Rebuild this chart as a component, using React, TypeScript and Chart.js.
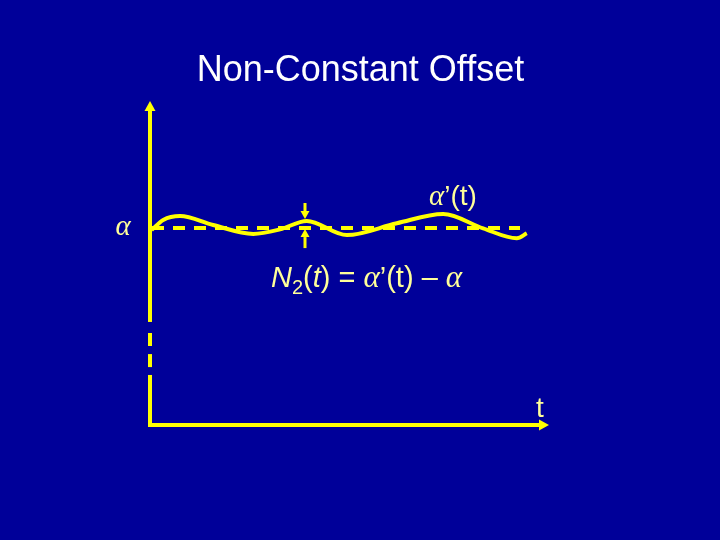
import React, { useEffect, useRef } from "react";
import { Chart, registerables } from "chart.js";

Chart.register(...registerables);

// ---- data (t along horizontal axis 0..100, value v with alpha = 1) ----
const ALPHA = 1.0;
const waveT = [0.4, 3.3, 7.5, 15.8, 25.8, 32.5, 39.2, 49.2, 61.7, 73.3, 83.3, 91.7, 94.2];
const waveV = [0.99, 1.041, 1.061, 1.015, 0.97, 0.993, 1.036, 0.964, 1.024, 1.071, 0.998, 0.948, 0.973];
const alphaLineT = [0.5, 92.5];
const vAxisSegments = [
  [0, 0.254],
  [0.294, 0.36],
  [0.401, 0.467],
  [0.523, 1.594],
];
const tAxisRange = [-0.5, 97.25];
const n2T = 38.75;
const n2Upper = [1.127, 1.086];
const n2Lower = [0.898, 0.954];

const titleText = "Non-Constant Offset";
const alphaLabel = "α";
const alphaPrimeLabel = ["α", "’(t)"];
const tLabel = "t";

const YELLOW = "#FFFF00";
const LABEL = "#FFFF99";
const BG = "#000099";

const SANS = "'Liberation Sans', Arial, sans-serif";
const SERIF = "'Liberation Serif', 'Times New Roman', serif";

type Seg = { text: string; font: string; dy?: number };

function drawSegs(ctx: CanvasRenderingContext2D, segs: Seg[], x: number, y: number, align: "left" | "center") {
  let total = 0;
  for (const s of segs) {
    ctx.font = s.font;
    total += ctx.measureText(s.text).width;
  }
  let cx = align === "center" ? x - total / 2 : x;
  ctx.textBaseline = "alphabetic";
  ctx.textAlign = "left";
  for (const s of segs) {
    ctx.font = s.font;
    ctx.fillText(s.text, cx, y + (s.dy || 0));
    cx += ctx.measureText(s.text).width;
  }
}

const arrowPlugin = {
  id: "arrowHeads",
  afterDatasetsDraw(chart: any) {
    const ctx = chart.ctx;
    chart.data.datasets.forEach((ds: any, i: number) => {
      if (!ds.arrow) return;
      const pts = chart.getDatasetMeta(i).data;
      if (pts.length < 2) return;
      const a = pts[pts.length - 2];
      const b = pts[pts.length - 1];
      const dx = b.x - a.x;
      const dy = b.y - a.y;
      const len = Math.hypot(dx, dy) || 1;
      const ux = dx / len;
      const uy = dy / len;
      const hl = ds.arrow.length;
      const hw = ds.arrow.width / 2;
      ctx.save();
      ctx.fillStyle = ds.borderColor;
      ctx.beginPath();
      ctx.moveTo(b.x + ux * hl, b.y + uy * hl);
      ctx.lineTo(b.x - uy * hw, b.y + ux * hw);
      ctx.lineTo(b.x + uy * hw, b.y - ux * hw);
      ctx.closePath();
      ctx.fill();
      ctx.restore();
    });
  },
};

const textPlugin = {
  id: "slideText",
  beforeDraw(chart: any) {
    const ctx = chart.ctx;
    ctx.save();
    ctx.fillStyle = BG;
    ctx.fillRect(0, 0, chart.width, chart.height);
    ctx.restore();
  },
  afterDatasetsDraw(chart: any) {
    const ctx = chart.ctx;
    const xs = chart.scales.x;
    const ys = chart.scales.y;
    ctx.save();
    // title
    ctx.fillStyle = "#FFFFFF";
    drawSegs(ctx, [{ text: titleText, font: `36px ${SANS}` }], 360.5, 81, "center");

    ctx.fillStyle = LABEL;
    // alpha label left of axis
    drawSegs(ctx, [{ text: alphaLabel, font: `italic 29px ${SERIF}` }], xs.getPixelForValue(-6.75), ys.getPixelForValue(0.964), "center");
    // alpha'(t)
    drawSegs(
      ctx,
      [
        { text: alphaPrimeLabel[0], font: `italic 29px ${SERIF}` },
        { text: alphaPrimeLabel[1], font: `28px ${SANS}` },
      ],
      xs.getPixelForValue(75.75),
      ys.getPixelForValue(1.117),
      "center"
    );
    // N2(t) = alpha'(t) - alpha
    drawSegs(
      ctx,
      [
        { text: "N", font: `italic 29px ${SANS}` },
        { text: "2", font: `20px ${SANS}`, dy: 7 },
        { text: "(", font: `29px ${SANS}` },
        { text: "t", font: `italic 29px ${SANS}` },
        { text: ") = ", font: `29px ${SANS}` },
        { text: "α", font: `italic 31px ${SERIF}` },
        { text: "’(t) – ", font: `29px ${SANS}` },
        { text: "α", font: `italic 31px ${SERIF}` },
      ],
      xs.getPixelForValue(30.25),
      ys.getPixelForValue(0.701),
      "left"
    );
    // t label
    drawSegs(ctx, [{ text: tLabel, font: `28px ${SANS}` }], xs.getPixelForValue(97.5), ys.getPixelForValue(0.041), "center");
    ctx.restore();
  },
};

export default function App() {
  const ref = useRef<HTMLCanvasElement | null>(null);

  useEffect(() => {
    if (!ref.current) return;
    const lineBase = {
      type: "line" as const,
      borderColor: YELLOW,
      pointRadius: 0,
      fill: false,
      clip: false,
    };
    const datasets: any[] = [
      {
        ...lineBase,
        label: "alpha",
        data: alphaLineT.map((t) => ({ x: t, y: ALPHA })),
        borderWidth: 4,
        borderDash: [12, 9],
      },
      {
        ...lineBase,
        label: "alpha'(t)",
        data: waveT.map((t, i) => ({ x: t, y: waveV[i] })),
        borderWidth: 4,
        cubicInterpolationMode: "monotone",
      },
      ...vAxisSegments.map((seg, i) => ({
        ...lineBase,
        label: "vaxis" + i,
        data: seg.map((v) => ({ x: 0, y: v })),
        borderWidth: 4,
        arrow: i === vAxisSegments.length - 1 ? { length: 10, width: 11 } : undefined,
      })),
      {
        ...lineBase,
        label: "taxis",
        data: tAxisRange.map((t) => ({ x: t, y: 0 })),
        borderWidth: 4,
        arrow: { length: 10, width: 11 },
      },
      {
        ...lineBase,
        label: "n2up",
        data: n2Upper.map((v) => ({ x: n2T, y: v })),
        borderWidth: 3,
        arrow: { length: 8, width: 9 },
      },
      {
        ...lineBase,
        label: "n2down",
        data: n2Lower.map((v) => ({ x: n2T, y: v })),
        borderWidth: 3,
        arrow: { length: 8, width: 9 },
      },
    ];

    const chart = new Chart(ref.current, {
      type: "line",
      data: { datasets },
      options: {
        responsive: false,
        animation: false,
        layout: { padding: { left: 150, right: 170, top: 31, bottom: 115 } },
        plugins: {
          legend: { display: false },
          title: { display: false },
          tooltip: { enabled: false },
        },
        scales: {
          x: { type: "linear", min: 0, max: 100, display: false },
          y: { type: "linear", min: 0, max: 2, display: false },
        },
        elements: { line: { borderCapStyle: "butt" } },
      },
      plugins: [textPlugin, arrowPlugin],
    } as any);
    return () => chart.destroy();
  }, []);

  return (
    <div style={{ position: "fixed", left: 0, top: 0, width: 720, height: 540, background: BG }}>
      <canvas ref={ref} width={720} height={540} style={{ display: "block" }} />
    </div>
  );
}
